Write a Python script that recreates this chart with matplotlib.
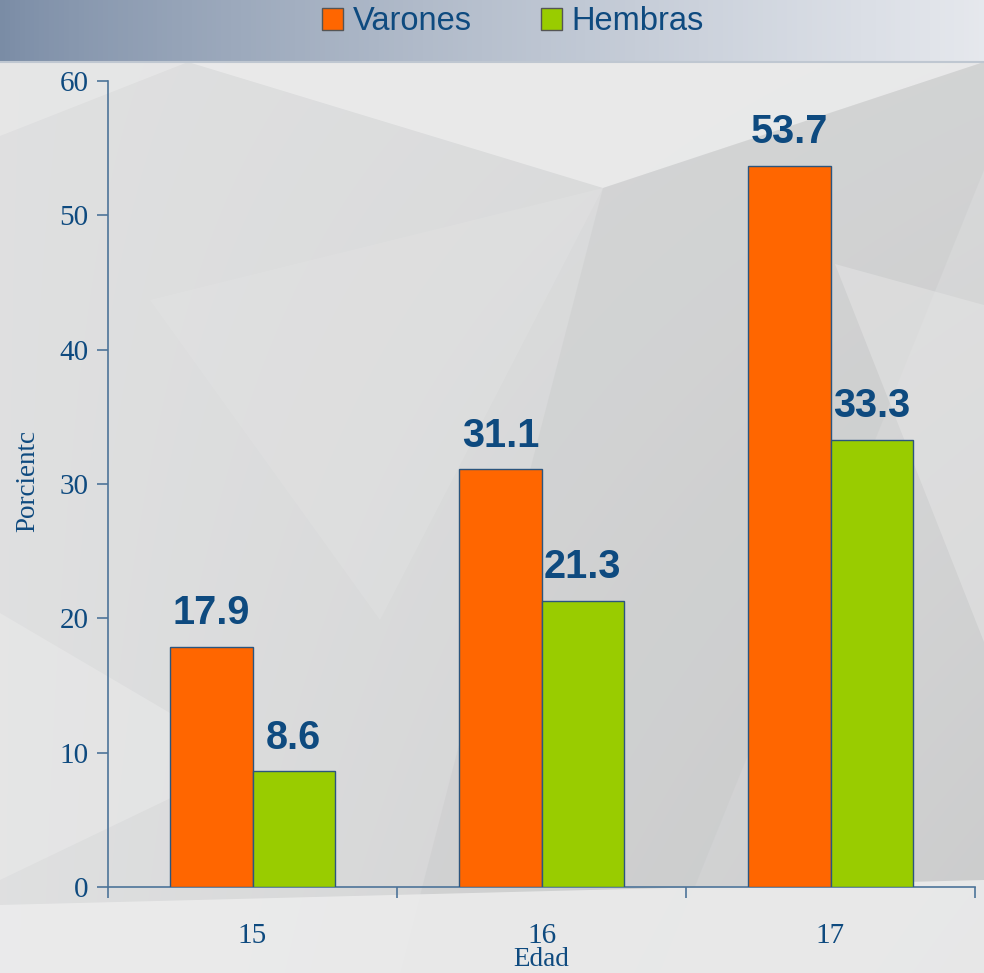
import numpy as np
import matplotlib
matplotlib.use("Agg")
import matplotlib.pyplot as plt
from matplotlib.patches import Polygon

categories = ["15", "16", "17"]
varones = [17.9, 31.1, 53.7]
hembras = [8.6, 21.3, 33.3]
series_names = ["Varones", "Hembras"]
yticks = [0, 10, 20, 30, 40, 50, 60]

W, H = 984, 973
fig = plt.figure(figsize=(W / 100, H / 100), dpi=100)

# ---- background decoration ----
bg = fig.add_axes([0, 0, 1, 1], zorder=-10)
bg.set_xlim(0, W)
bg.set_ylim(H, 0)
bg.axis("off")
yy, xx = np.mgrid[0:H, 0:W]
base = 0.875 - 0.06 * (xx / W) * (yy / H) - 0.02 * (xx / W)
img = np.dstack([base, base + 0.003, base + 0.005])
bg.imshow(np.clip(img, 0, 1), extent=[0, W, H, 0], aspect="auto", zorder=0)
shapes = [
    ([(188, 62), (984, 62), (603, 188)], (0.93, 0.93, 0.93), 0.8),
    ([(0, 62), (188, 62), (0, 136)], (0.91, 0.91, 0.91), 0.8),
    ([(984, 62), (984, 170), (660, 973), (400, 973), (603, 188)], (0.76, 0.77, 0.77), 0.28),
    ([(835, 264), (984, 305), (984, 642)], (0.90, 0.90, 0.90), 0.5),
    ([(0, 613), (250, 760), (0, 880)], (0.92, 0.92, 0.92), 0.5),
    ([(150, 300), (603, 188), (380, 620)], (0.92, 0.92, 0.92), 0.2),
    ([(0, 905), (984, 880), (984, 973), (0, 973)], (0.93, 0.93, 0.93), 0.85),
]
for pts, col, a in shapes:
    bg.add_patch(Polygon(pts, closed=True, facecolor=col, edgecolor="none", alpha=a, zorder=1))
# top band gradient
band = np.linspace(0, 1, 200)
c0 = np.array([0.48, 0.55, 0.65])
c1 = np.array([0.90, 0.91, 0.93])
grad = c0[None, :] + (c1 - c0)[None, :] * band[:, None] ** 0.8
bg.imshow(grad[None, :, :], extent=[0, W, 62, 0], aspect="auto", zorder=2)
bg.plot([0, W], [62, 62], color=(0.75, 0.78, 0.82), lw=1.5, zorder=3)

# ---- chart ----
ax = fig.add_axes([108 / W, 1 - 887 / H, (975 - 108) / W, (887 - 81) / H])
ax.patch.set_alpha(0)
x = np.arange(len(categories))
bw = 0.285
orange = "#ff6600"
green = "#99cc00"
edge = "#2b557e"
ax.bar(x - bw / 2, varones, bw, color=orange, edgecolor=edge, linewidth=1, label=series_names[0], zorder=3)
ax.bar(x + bw / 2, hembras, bw, color=green, edgecolor=edge, linewidth=1, label=series_names[1], zorder=3)

label_col = "#0e4a7f"
for offs, vals in ((-bw / 2, varones), (bw / 2, hembras)):
    for xi, v in zip(x + offs, vals):
        ax.annotate(f"{v:.1f}", (xi, v), xytext=(0, 10.5), textcoords="offset points",
                    ha="center", va="bottom", fontsize=28.5, fontweight="bold",
                    family="Liberation Sans", color=label_col)

ax.set_xlim(-0.5, len(categories) - 0.5)
ax.set_ylim(0, 60)
axis_col = "#4d7499"
for s in ["top", "right"]:
    ax.spines[s].set_visible(False)
for s in ["left", "bottom"]:
    ax.spines[s].set_color(axis_col)
    ax.spines[s].set_linewidth(1.2)
ax.set_yticks(yticks)
ax.set_yticklabels([str(t) for t in yticks], family="Liberation Serif", fontsize=21, color=label_col)
ax.set_xticks(np.arange(-0.5, len(categories)), minor=False)
ax.set_xticklabels([])
ax.set_xticks(x, minor=True)
ax.set_xticklabels(categories, minor=True, family="Liberation Serif", fontsize=21, color=label_col)
ax.tick_params(axis="x", which="minor", length=0, pad=26)
ax.tick_params(axis="x", which="major", length=8, color=axis_col, width=1.2, direction="out")
ax.tick_params(axis="y", length=8, color=axis_col, width=1.2, pad=6)

fig.text(541 / W, 1 - 966 / H, "Edad", family="Liberation Serif", fontsize=19.5,
         color=label_col, ha="center", va="baseline")
fig.text(28 / W, 1 - 481 / H, "Porcientc", family="Liberation Serif", fontsize=19.5,
         color=label_col, ha="center", va="center", rotation=90)

leg = fig.legend(loc="center", bbox_to_anchor=(513 / W, 1 - 22 / H), ncol=2, frameon=False,
                 prop={"family": "Liberation Sans", "size": 23.5}, labelcolor=label_col,
                 handlelength=0.65, handleheight=0.65, handletextpad=0.3, columnspacing=2.1)
for h in leg.legend_handles:
    h.set_edgecolor("#555555")
    h.set_linewidth(1)

fig.savefig("out.png", dpi=100)
